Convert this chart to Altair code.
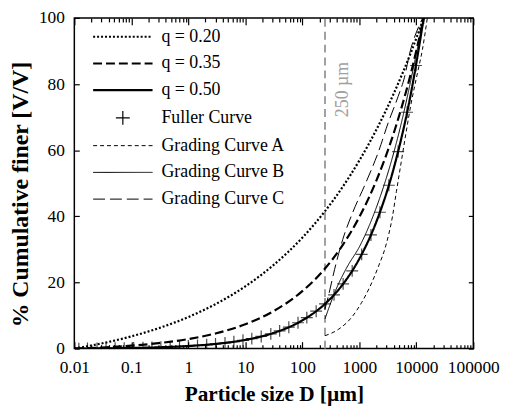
import altair as alt
import pandas as pd

# ---------------- data ----------------
series_names = ["q = 0.20", "q = 0.35", "q = 0.50", "Fuller Curve",
                "Grading Curve A", "Grading Curve B", "Grading Curve C"]

grid_D = [0.01, 0.03, 0.1, 0.3, 1, 3, 10, 30, 100, 250, 500, 1000, 2000, 4000, 8000, 13500]
q020_P = [0, 1.55, 3.70, 6.16, 9.55, 13.45, 18.83, 25.01, 33.54, 41.56, 48.68, 56.86, 66.25, 77.05, 89.44, 100]
q035_P = [0, 0.34, 0.89, 1.65, 2.89, 4.58, 7.36, 11.15, 17.37, 24.21, 31.06, 39.78, 50.90, 65.07, 83.15, 100]
q050_P = [0, 0.06, 0.19, 0.39, 0.78, 1.41, 2.64, 4.63, 8.53, 13.53, 19.18, 27.15, 38.44, 54.39, 76.96, 100]

fuller_D = [0.012, 0.017, 0.025, 0.036, 0.052, 0.075, 0.11, 0.16, 0.23, 0.33, 0.48, 0.7,
            1.0, 1.45, 2.1, 3.0, 4.4, 6.3, 9.1, 13, 19, 28, 40, 58, 84, 120, 175, 250,
            360, 520, 750, 1100, 1600, 2300, 3300, 4800, 6900, 9900, 13500]
fuller_P = [0.01, 0.03, 0.05, 0.08, 0.11, 0.15, 0.20, 0.26, 0.33, 0.41, 0.51, 0.64,
            0.78, 0.95, 1.16, 1.41, 1.72, 2.08, 2.51, 3.02, 3.67, 4.47, 5.36, 6.47, 7.81,
            9.35, 11.31, 13.53, 16.26, 19.56, 23.50, 28.48, 34.37, 41.23, 49.40, 59.59,
            71.47, 85.62, 100]

gradA_D = [250, 437, 738, 1095, 1525, 2115, 2935, 3821, 4475, 5448, 6636, 8081, 10527, 12820, 15610]
gradA_P = [3.9, 5.9, 9.5, 13.9, 18.6, 24.4, 31.3, 40, 47.5, 56.5, 65.5, 74, 83.5, 90.5, 100]

gradB_D = [250, 384, 598, 1040, 1738, 2786, 4130, 5781, 7762, 10230, 13500]
gradB_P = [9.0, 17.6, 24.4, 31.3, 40, 50, 60, 70, 80, 90, 100]

gradC_D = [250, 283, 369, 512, 759, 1282, 2175, 3228, 4786, 6209, 7551, 11220, 12970]
gradC_P = [12, 15.5, 24, 33, 41, 49.9, 59.6, 68.4, 76.2, 82.1, 88.9, 97.7, 100]

x_major = [0.01, 0.1, 1, 10, 100, 1000, 10000, 100000]
x_minor = [m * 10.0 ** k for k in range(-2, 5) for m in range(2, 10)]
y_ticks = [0, 20, 40, 60, 80, 100]

marker_D = [250]
marker_lo = [0]
marker_hi = [100]
marker_label = ["250 µm"]
marker_label_P = [70]

# ---------------- styles ----------------
dash_styles = [[2, 2], [9, 4], [1, 0], [1, 0], [4, 3], [1, 0], [12, 5]]
FONT = "Liberation Serif"
thick_names = ["q = 0.20", "q = 0.35", "q = 0.50"]

rows = []
for name, Ds, Ps in [("q = 0.20", grid_D, q020_P), ("q = 0.35", grid_D, q035_P),
                     ("q = 0.50", grid_D, q050_P), ("Grading Curve A", gradA_D, gradA_P),
                     ("Grading Curve B", gradB_D, gradB_P), ("Grading Curve C", gradC_D, gradC_P)]:
    for d, p in zip(Ds, Ps):
        rows.append({"series": name, "D": d, "P": p})
lines_df = pd.DataFrame(rows)
thick_df = lines_df[lines_df["series"].isin(thick_names)]
thin_df = lines_df[~lines_df["series"].isin(thick_names)]
fuller_df = pd.DataFrame({"D": fuller_D, "P": fuller_P})
rule_df = pd.DataFrame({"D": marker_D, "lo": marker_lo, "hi": marker_hi})
text_df = pd.DataFrame({"D": marker_D, "P": marker_label_P, "label": marker_label})

x_scale = alt.Scale(type="log", domain=[0.01, 100000], nice=False)
y_scale = alt.Scale(domain=[0, 100], nice=False)

PLOT_H = 334

# inward ticks: axes pulled inside the frame by their own tick length
x_bottom_major = alt.Axis(orient="bottom", values=x_major, format="~g", offset=-7, tickSize=7,
                          domain=False, labelPadding=10, labelFlush=False, labelOverlap=False,
                          title="Particle size D [µm]", titlePadding=8, titleFontSize=21.5)
x_bottom_minor = alt.Axis(orient="bottom", values=x_minor, offset=-4, tickSize=4,
                          domain=False, labels=False, title=None)
x_top_major = alt.Axis(orient="top", values=x_major, offset=-7, tickSize=7,
                       domain=False, labels=False, title=None)
x_top_minor = alt.Axis(orient="top", values=x_minor, offset=-4, tickSize=4,
                       domain=False, labels=False, title=None)
y_left = alt.Axis(orient="left", values=y_ticks, offset=-5, tickSize=5, domain=False,
                  labelPadding=10, labelFlush=False, title="% Cumulative finer [V/V]",
                  titlePadding=6, titleFontSize=24, titleY=PLOT_H / 2 + 11)
y_right = alt.Axis(orient="right", values=y_ticks, offset=-5, tickSize=5, domain=False,
                   labels=False, title=None)

legend_shape = "datum.value === 'Fuller Curve' ? 'M-0.7,0L0.7,0M0,-0.7L0,0.7' : 'M-3,0L3,0'"
legend_width = ("indexof(['q = 0.20','q = 0.35','q = 0.50'], datum.value) >= 0 ? 2.2 : "
                "(datum.value === 'Fuller Curve' ? 1.2 : 1)")

dash_enc = alt.StrokeDash(
    "series:N",
    scale=alt.Scale(domain=series_names, range=dash_styles),
    legend=alt.Legend(title=None, orient="none", legendX=40, legendY=10,
                      symbolType=alt.ExprRef(legend_shape), symbolSize=400,
                      symbolStrokeWidth=alt.ExprRef(legend_width), labelOffset=30,
                      rowPadding=9, padding=0, labelFont=FONT, labelFontSize=18,
                      labelColor="black", symbolStrokeColor="black"),
)

thick = alt.Chart(thick_df).mark_line(color="black", interpolate="monotone", clip=True,
                                      strokeWidth=2.2).encode(
    x=alt.X("D:Q", scale=x_scale, axis=x_bottom_major),
    y=alt.Y("P:Q", scale=y_scale, axis=y_left),
    detail="series:N",
    strokeDash=dash_enc,
)

thin = alt.Chart(thin_df).mark_line(color="black", interpolate="monotone", clip=True,
                                    strokeWidth=1).encode(
    x=alt.X("D:Q", scale=x_scale, axis=x_bottom_minor),
    y=alt.Y("P:Q", scale=y_scale, axis=y_right),
    detail="series:N",
    strokeDash=dash_enc,
)

points = alt.Chart(fuller_df).mark_point(
    shape="M-1,0L1,0M0,-1L0,1", size=144, filled=False, color="black", strokeWidth=1.2,
    clip=True
).encode(
    x=alt.X("D:Q", scale=x_scale, axis=x_top_major),
    y=alt.Y("P:Q", scale=y_scale, axis=None),
)

rule = alt.Chart(rule_df).mark_rule(color="#a0a0a0", strokeDash=[8, 5], strokeWidth=2).encode(
    x=alt.X("D:Q", scale=x_scale, axis=x_top_minor),
    y=alt.Y("lo:Q", scale=y_scale, axis=None),
    y2="hi:Q",
)

label = alt.Chart(text_df).mark_text(
    angle=270, align="left", baseline="top", dy=9, font=FONT, fontSize=18, color="#a0a0a0"
).encode(
    x=alt.X("D:Q", scale=x_scale, axis=None),
    y=alt.Y("P:Q", scale=y_scale, axis=None),
    text="label:N",
)

chart = alt.layer(rule, label, thick, thin, points).resolve_axis(
    x="independent", y="independent"
).properties(
    width=403, height=PLOT_H,
    autosize=alt.AutoSizeParams(type="none"),
    padding={"left": 67, "top": 8, "right": 30, "bottom": 62},
).configure_view(stroke="black", strokeWidth=1.5).configure_axis(
    tickColor="black", tickWidth=1.2,
    labelFont=FONT, labelFontSize=17.5, labelColor="black",
    titleFont=FONT, titleFontWeight="bold", titleColor="black",
    grid=False,
)

chart.save("out.html", embed_options={"renderer": "svg", "actions": False})
